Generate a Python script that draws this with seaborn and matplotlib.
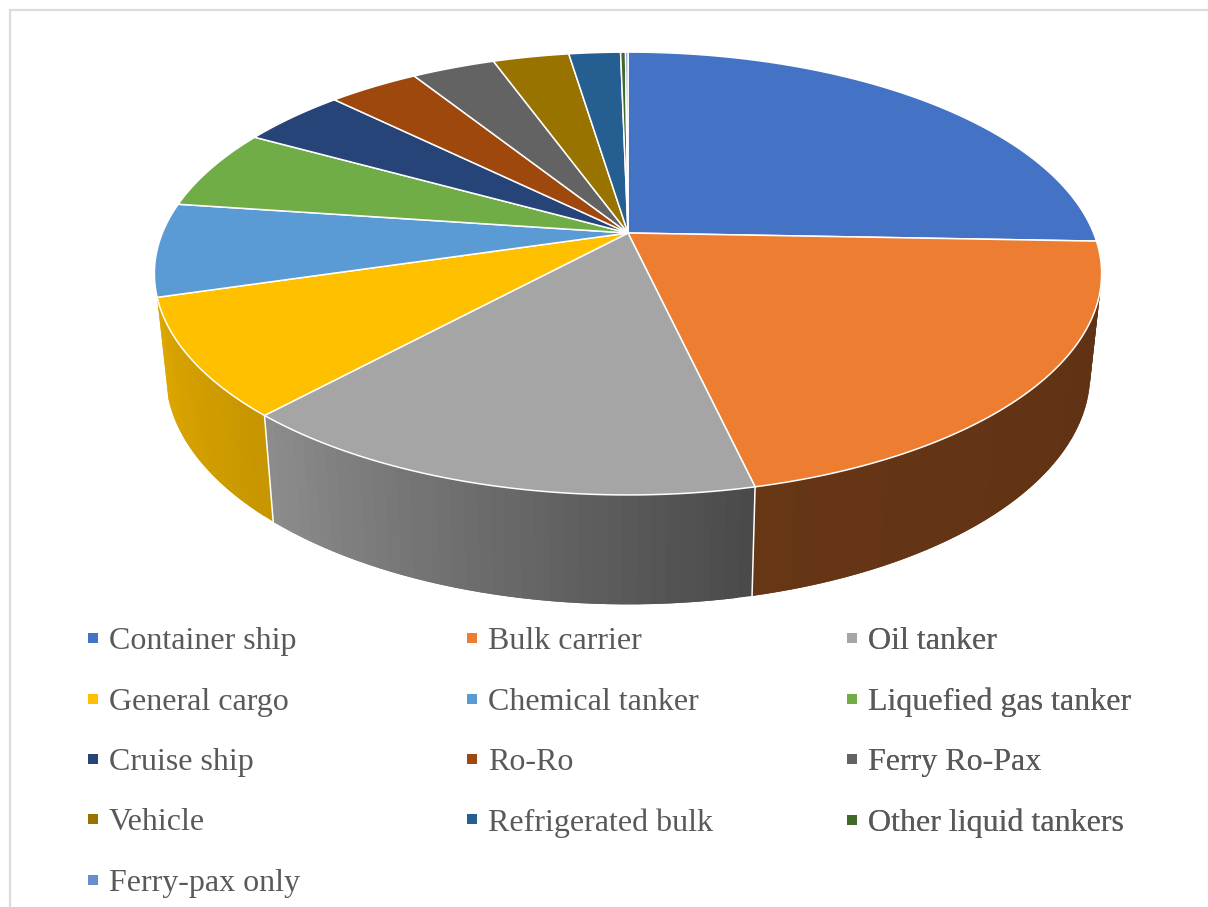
import numpy as np
import matplotlib
matplotlib.use("Agg")
import matplotlib.pyplot as plt
from matplotlib.lines import Line2D
import seaborn as sns

# share of each ship type, %
ship_types = ["Container ship", "Bulk carrier", "Oil tanker", "General cargo",
              "Chemical tanker", "Liquefied gas tanker", "Cruise ship", "Ro-Ro",
              "Ferry Ro-Pax", "Vehicle", "Refrigerated bulk",
              "Other liquid tankers", "Ferry-pax only"]
shares = [25.6, 20.8, 15.4, 8.6, 6.8, 5.9, 4.3, 3.7, 3.4, 3.1, 2.1, 0.2, 0.1]
slice_colors = ["#4472C4", "#ED7D31", "#A5A5A5", "#FFC000", "#5B9BD5", "#70AD47",
                "#264478", "#9E480E", "#636363", "#997300", "#255E91", "#43682B",
                "#698ED0"]

# brightness of the side wall, left end and right end as seen on screen
wall_shade = {1: (0.43, 0.40), 2: (0.85, 0.45), 3: (0.87, 0.78)}

# camera: pie apex on screen and the perspective of the top face
APEX_X, APEX_Y = 628, 233
R, S, K = 465.6, 214.0, 0.183


def top_face(theta):
    # theta is clockwise from 12 o'clock
    x, y = np.sin(theta), np.cos(theta)
    w = 1 + K * y
    return R * x / w, S * y / w


def to_screen(u, v):
    return APEX_X + u, APEX_Y - v


def bottom_face(theta):
    u, v = top_face(theta)
    return 0.976 * u, 1.04 * v - 99


sns.set_theme(style="white")
palette = sns.color_palette(slice_colors)
plt.rcParams["font.family"] = ["Liberation Serif", "DejaVu Serif"]

fig = plt.figure(figsize=(12.08, 9.07), dpi=100)
ax = fig.add_axes([0, 0, 1, 1])
ax.set_xlim(0, 1208)
ax.set_ylim(907, 0)
ax.axis("off")

# frame of the pasted chart, only left and top show
ax.plot([10, 10], [907, 10], color="#dcdcdc", lw=1.6, zorder=1)
ax.plot([10, 1208], [10, 10], color="#dcdcdc", lw=1.6, zorder=1)

edges = np.radians(np.cumsum([0] + shares) / sum(shares) * 360)

# side walls
for i, color in enumerate(palette):
    if i not in wall_shade:
        continue
    n_bands = int(np.degrees(edges[i + 1] - edges[i]) / 1.5) + 2
    th = np.linspace(edges[i], edges[i + 1], n_bands)
    xt, yt = to_screen(*top_face(th))
    xb, yb = to_screen(*bottom_face(th))
    left, right = wall_shade[i]
    for j in range(len(th) - 1):
        # clockwise along the front runs right to left on screen
        f = j / (len(th) - 2)
        shade = right + (left - right) * f
        c = np.clip(np.array(color) * shade, 0, 1)
        # each band runs under the next one, no seams that way
        k = min(j + 2, len(th) - 1)
        ax.fill([xt[j], xt[k], xb[k], xb[j]],
                [yt[j], yt[k], yb[k], yb[j]],
                facecolor=c, edgecolor="none", zorder=2)

# white seams between the walls
for i in [2, 3]:
    xt, yt = to_screen(*top_face(edges[i]))
    xb, yb = to_screen(*bottom_face(edges[i]))
    ax.plot([xt, xb], [yt, yb], color="white", lw=1.1, zorder=3)

# top face
for i, color in enumerate(palette):
    th = np.linspace(edges[i], edges[i + 1], 120)
    xs, ys = to_screen(*top_face(th))
    ax.fill(np.r_[APEX_X, xs], np.r_[APEX_Y, ys], facecolor=color,
            edgecolor="white", lw=1.1, joinstyle="round", zorder=4)

# legend, one block per column so the columns start where they should
col_x = [85, 464, 844]
for c, x0 in enumerate(col_x):
    idx = range(c, len(ship_types), 3)
    handles = [Line2D([], [], ls="none", marker="s", ms=7.6, mew=0, color=palette[i]) for i in idx]
    leg = ax.legend(handles, [ship_types[i] for i in idx], loc="upper left",
                    bbox_to_anchor=(x0, 627), bbox_transform=ax.transData,
                    frameon=False, borderpad=0, borderaxespad=0, fontsize=23,
                    handlelength=0.5, handletextpad=0.25, labelspacing=0.97,
                    labelcolor="#595959")
    ax.add_artist(leg)

fig.savefig("out.png", dpi=100, facecolor="white")
